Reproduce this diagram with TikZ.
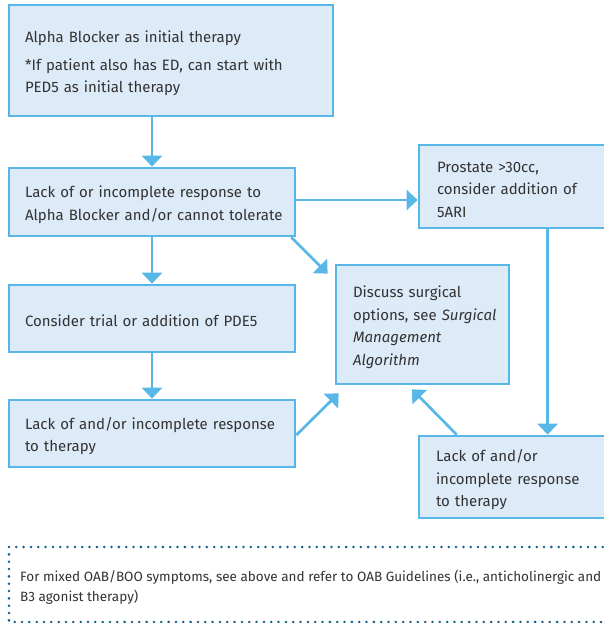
\documentclass[tikz,border=0pt]{standalone}
\usepackage{fontspec}
\setmainfont{Fira Sans}
\usetikzlibrary{arrows.meta,calc}
\definecolor{bord}{RGB}{88,183,230}
\definecolor{boxfill}{RGB}{221,235,248}
\definecolor{txt}{RGB}{50,50,50}
\definecolor{dots}{RGB}{18,95,135}
\newcommand\oneline[1]{\mbox{#1}}
\newcommand\firstline[2][17pt]{\mbox{\rule{0pt}{#1}#2}}
\tikzset{
  box/.style={draw=bord, fill=boxfill, line width=2.7pt, rectangle, inner xsep=16pt,
    align=left, text=txt, font=\fontsize{15}{22.5}\selectfont, anchor=center},
  arr/.style={draw=bord, line width=2.7pt, -{Triangle[width=20pt,length=11pt]}},
}
\begin{document}
\begin{tikzpicture}[x=1pt,y=-1pt]
\useasboundingbox (0,0) rectangle (604,623);
\clip (0,0) rectangle (604,623);
\node[box, minimum width=324pt, minimum height=111pt, text width=292pt] (b1) at (171,60.5)
  {\firstline[18pt]{Alpha Blocker as initial therapy}\\[5pt]\oneline{*If patient also has ED, can start with}\\\oneline{PED5 as initial therapy}};
\node[box, minimum width=286pt, minimum height=68pt, text width=254pt] (b2) at (152,202)
  {\firstline{Lack of or incomplete response to}\\\oneline{Alpha Blocker and/or cannot tolerate}};
\node[box, minimum width=286pt, minimum height=67pt, text width=254pt] (b3) at (152,318.5)
  {\firstline{Consider trial or addition of PDE5}};
\node[box, minimum width=286pt, minimum height=67pt, text width=254pt] (b4) at (152,433.5)
  {\firstline{Lack of and/or incomplete response}\\\oneline{to therapy}};
\node[box, inner xsep=18pt, minimum width=201pt, minimum height=83pt, text width=165pt] (bp) at (519.5,186.5)
  {\firstline{Prostate >30cc,}\\\oneline{consider addition of}\\\oneline{5ARI}};
\node[box, inner xsep=17pt, minimum width=173pt, minimum height=119pt, text width=139pt] (bd) at (422.5,324.5)
  {\firstline[17.5pt]{Discuss surgical}\\\oneline{options, see \textit{Surgical}}\\\oneline{\textit{Management}}\\\oneline{\textit{Algorithm}}};
\node[box, inner xsep=17pt, minimum width=201pt, minimum height=82pt, text width=167pt] (b5) at (519.5,477)
  {\firstline[18pt]{Lack of and/or}\\\oneline{incomplete response}\\\oneline{to therapy}};
% connectors
\draw[arr] (b1.south -| b2.north) -- (b2.north);
\draw[arr] (b2.south) -- (b3.north);
\draw[arr] (b3.south) -- (b4.north);
\coordinate (s0) at ($(b2.east)+(0,-2)$);
\draw[arr] (s0) -- (s0 -| bp.west);
\coordinate (t1) at ($(bd.north west)+(-7,10)$);
\draw[arr] ($(b2.south east)+(-5,0)$) -- (t1);
\coordinate (t2) at ($(bd.south west)+(4,8)$);
\draw[arr] ($(b4.east)+(0,1.5)$) -- (t2);
\coordinate (t3) at ($(bd.south)+(-10.5,4)$);
\draw[arr] ($(b5.north west)+(39,0)$) -- (t3);
\coordinate (s4) at ($(bp.south west)+(130,0)$);
\draw[arr] (s4) -- (s4 |- b5.north);
% footer
\draw[dots, line width=2.8pt, line cap=round, dash pattern=on 0pt off 7.33pt]
  (610,547) -- (9,547) -- (9,622) -- (610,622);
\node[anchor=west, align=left, text=txt, inner sep=0pt, font=\fontsize{13.5}{20}\selectfont] (ft) at (20,587)
  {For mixed OAB/BOO symptoms, see above and refer to OAB Guidelines (i.e., anticholinergic and\\B3 agonist therapy)};
\end{tikzpicture}
\end{document}
